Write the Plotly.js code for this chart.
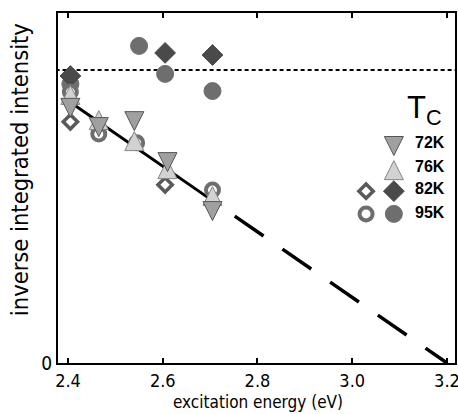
<!DOCTYPE html>
<html><head><meta charset="utf-8">
<script src="https://cdn.plot.ly/plotly-3.0.1.min.js"></script>
<style>html,body{margin:0;padding:0;background:#fff}#plot{width:458px;height:414px}</style>
</head><body><div id="plot"></div>
<script>
// ---- data (y in arbitrary units, 0 at bottom axis) ----
const tc72_x = [2.405, 2.465, 2.54, 2.61, 2.705];
const tc72_y = [0.729, 0.674, 0.691, 0.574, 0.434];
const tc76_x = [2.405, 2.465, 2.54, 2.61, 2.705];
const tc76_y = [0.766, 0.694, 0.634, 0.554, 0.477];
const tc82open_x = [2.405, 2.605];
const tc82open_y = [0.689, 0.509];
const tc82fill_x = [2.405, 2.605, 2.705];
const tc82fill_y = [0.82, 0.886, 0.88];
const tc95open_x = [2.405, 2.465, 2.545, 2.705];
const tc95open_y = [0.774, 0.654, 0.629, 0.494];
const tc95fill_x = [2.405, 2.55, 2.605, 2.705];
const tc95fill_y = [0.797, 0.906, 0.826, 0.777];
// linear fit: y = fitSlope * (fitZero - x)
const fitZero = 3.2;
const fitSlope = 0.937;
const fitSolidX = [2.395, 2.695];
const fitDashX = [2.752, 3.2];
const refLevel = 0.837;
const xTicks = [2.4, 2.6, 2.8, 3.0, 3.2];
const xTickText = ['2.4', '2.6', '2.8', '3.0', '3.2'];
const legendLabels = ['72K', '76K', '82K', '95K'];

const FONT = 'DejaVu Sans Condensed, Liberation Sans Narrow, Arial Narrow, sans-serif';
const fitY = xs => xs.map(x => fitSlope * (fitZero - x));

const sty = {
  t72: {symbol: 'arrow-down', angle: 0, size: 19, color: '#a0a0a0', line: {color: '#555', width: 1}},
  t76: {symbol: 'arrow-down', angle: 180, size: 19, color: '#d2d2d2', line: {color: '#858585', width: 1}},
  d82o: {symbol: 'diamond', size: 11, color: '#fff', line: {color: '#5a5a5a', width: 3.5}},
  d82f: {symbol: 'diamond', size: 16, color: '#4a4a4a', line: {color: '#4a4a4a', width: 1}},
  c95o: {symbol: 'circle', size: 13, color: '#fff', line: {color: '#6e6e6e', width: 4}},
  c95f: {symbol: 'circle', size: 17, color: '#6e6e6e', line: {color: '#6e6e6e', width: 1}}
};
function mk(s) {
  const m = {symbol: s.symbol, size: s.size, color: s.color, line: s.line};
  if (s.symbol.indexOf('arrow') === 0) { m.standoff = s.size / 2; m.angle = s.angle; }
  return m;
}
function pts(x, y, s, xa, ya) {
  return {type: 'scatter', mode: 'markers', x: x, y: y, marker: mk(s), xaxis: xa || 'x', yaxis: ya || 'y', hoverinfo: 'skip', cliponaxis: false};
}

const traces = [
  {type: 'scatter', mode: 'lines', x: [2.3, 3.3], y: [refLevel, refLevel], line: {color: '#000', width: 2, dash: '4px,3px'}},
  {type: 'scatter', mode: 'lines', x: fitSolidX, y: fitY(fitSolidX), line: {color: '#000', width: 3}},
  {type: 'scatter', mode: 'lines', x: fitDashX, y: fitY(fitDashX), line: {color: '#000', width: 3.5, dash: '35px,23px'}},
  pts(tc95fill_x, tc95fill_y, sty.c95f),
  pts(tc82fill_x, tc82fill_y, sty.d82f),
  pts(tc95open_x, tc95open_y, sty.c95o),
  pts(tc82open_x, tc82open_y, sty.d82o),
  pts(tc76_x, tc76_y, sty.t76),
  pts(tc72_x, tc72_y, sty.t72)
];

// legend keys on an overlay axis (0..1 over the plot area)
const legColOpen = 0.776, legColFill = 0.846, legLabelX = 0.894;
const legRowY = [0.62, 0.551, 0.491, 0.426];
const legLabelY = [0.629, 0.56, 0.5, 0.431];
traces.push(pts([legColFill], [legRowY[0]], sty.t72, 'x2', 'y2'));
traces.push(pts([legColFill], [legRowY[1]], sty.t76, 'x2', 'y2'));
traces.push(pts([legColOpen], [legRowY[2]], sty.d82o, 'x2', 'y2'));
traces.push(pts([legColFill], [legRowY[2]], sty.d82f, 'x2', 'y2'));
traces.push(pts([legColOpen], [legRowY[3]], sty.c95o, 'x2', 'y2'));
traces.push(pts([legColFill], [legRowY[3]], sty.c95f, 'x2', 'y2'));

const annotations = legendLabels.map((t, i) => ({
  xref: 'paper', yref: 'paper', x: legLabelX, y: legLabelY[i], xanchor: 'left', yanchor: 'middle',
  text: '<b>' + t + '</b>', showarrow: false, font: {family: 'Liberation Sans, Arial, sans-serif', size: 16, color: '#000'}
}));
annotations.push({xref: 'paper', yref: 'paper', x: 0.924, y: 0.723, xanchor: 'center', yanchor: 'middle',
  text: 'T<sub>C</sub>', showarrow: false, font: {family: 'Liberation Sans, Arial, sans-serif', size: 31, color: '#000'}});
annotations.push({xref: 'paper', yref: 'paper', x: 0.504, y: 0, yanchor: 'top', yshift: -27,
  text: 'excitation energy (eV)', showarrow: false, font: {family: FONT, size: 17, color: '#000'}});
annotations.push({xref: 'paper', yref: 'paper', x: 0, y: 0.551, xanchor: 'center', xshift: -38, textangle: -90,
  text: 'inverse integrated intensity', showarrow: false, font: {family: FONT, size: 23.5, color: '#000'}});

const layout = {
  width: 458, height: 414,
  margin: {l: 58, r: 3, t: 13, b: 51},
  paper_bgcolor: '#fff', plot_bgcolor: '#fff',
  showlegend: false,
  font: {family: FONT, size: 17, color: '#000'},
  xaxis: {range: [2.3789, 3.2169], tickvals: xTicks, ticktext: xTickText, ticks: 'inside', ticklen: 5, tickwidth: 2,
    tickcolor: '#000', showline: true, linewidth: 2, linecolor: '#000', mirror: 'ticks', showgrid: false, zeroline: false,
    ticklabeloverflow: 'allow', tickfont: {family: FONT, size: 18}},
  yaxis: {range: [0, 1], tickvals: [0], ticktext: ['0'], ticks: '', showline: true, linewidth: 2, linecolor: '#000',
    mirror: true, showgrid: false, zeroline: false, ticklabeloverflow: 'allow', tickfont: {family: FONT, size: 19}},
  xaxis2: {overlaying: 'x', range: [0, 1], visible: false},
  yaxis2: {overlaying: 'y', range: [0, 1], visible: false},
  annotations: annotations
};
Plotly.newPlot('plot', traces, layout, {staticPlot: true});
</script></body></html>
